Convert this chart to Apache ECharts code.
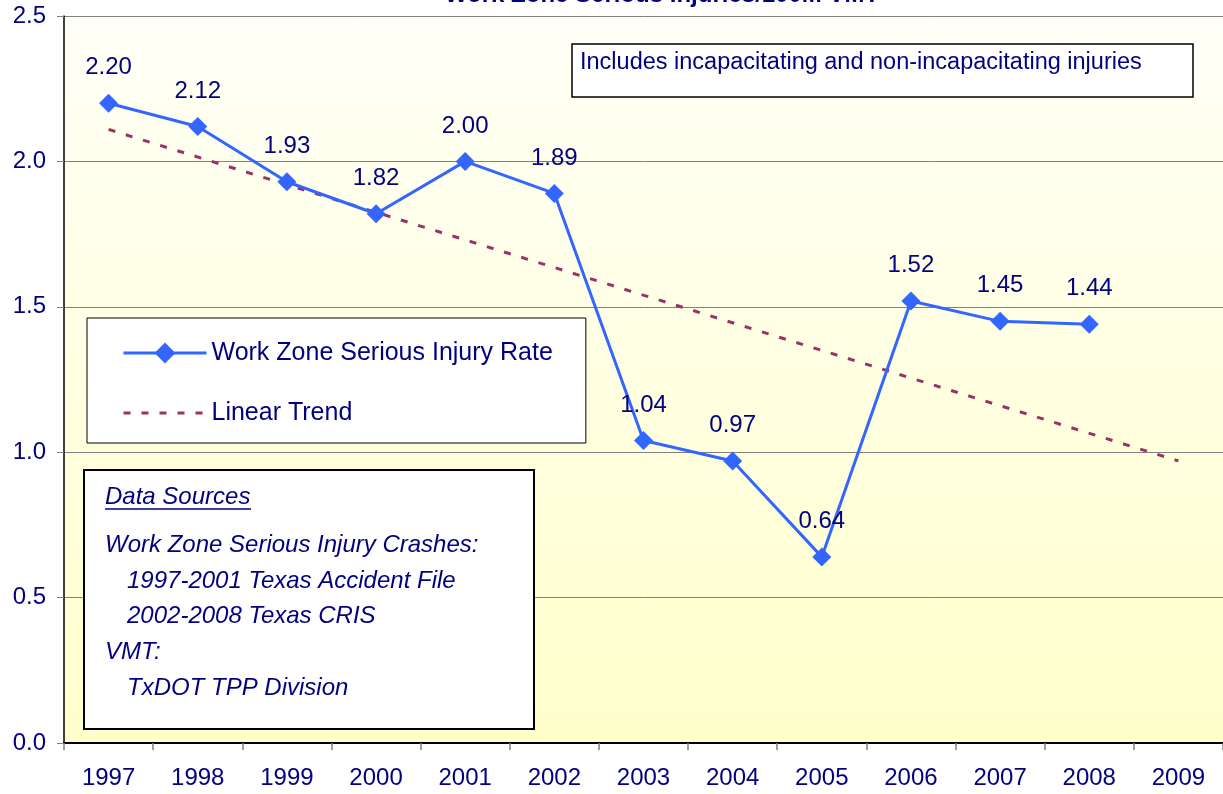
<!DOCTYPE html>
<html lang="en">
<head>
    <meta charset="UTF-8">
    <title>Work Zone Serious Injuries/100M VMT</title>
    <script type="text/javascript" src="https://cdn.jsdelivr.net/npm/echarts@6/dist/echarts.min.js"></script>
    <style>
        html, body { margin: 0; padding: 0; background: #fff; }
        #main { width: 1223px; height: 794px; }
    </style>
</head>
<body>
<div id="main"></div>
<script type="text/javascript">
    var years = ['1997', '1998', '1999', '2000', '2001', '2002', '2003', '2004', '2005', '2006', '2007', '2008', '2009'];
    var injuryRate = [2.20, 2.12, 1.93, 1.82, 2.00, 1.89, 1.04, 0.97, 0.64, 1.52, 1.45, 1.44];
    // trend line end points
    var trendYears = ['1997', '2009'];
    var trendValues = [2.11, 0.97];
    var yTicks = [0, 0.5, 1.0, 1.5, 2.0, 2.5];

    var navy = '#000080';
    var font = 'Liberation Sans, Arial, sans-serif';

    var myChart = echarts.init(document.getElementById('main'));

    var trendData = [];
    for (var i = 0; i < trendYears.length; i++) {
        trendData.push([trendYears[i], trendValues[i]]);
    }

    var sourceLines = [
        ['Work Zone Serious Injury Crashes:', 105, 545],
        ['1997-2001 Texas Accident File', 127, 581],
        ['2002-2008 Texas CRIS', 127, 616],
        ['VMT:', 105, 652],
        ['TxDOT TPP Division', 127, 688]
    ];

    var graphics = [
        {
            type: 'rect', z: 50,
            shape: { x: 572, y: 44, width: 621, height: 53 },
            style: { fill: '#fff', stroke: '#000', lineWidth: 1.5 }
        },
        {
            type: 'text', z: 51, x: 580, y: 63,
            style: {
                text: 'Includes incapacitating and non-incapacitating injuries',
                font: '23.5px ' + font, fill: navy, verticalAlign: 'middle'
            }
        },
        {
            type: 'rect', z: 50,
            shape: { x: 84, y: 470, width: 450, height: 259 },
            style: { fill: '#fff', stroke: '#000', lineWidth: 2 }
        },
        {
            type: 'text', z: 51, x: 105, y: 497,
            style: {
                text: 'Data Sources', font: 'italic 24px ' + font,
                fill: navy, verticalAlign: 'middle'
            }
        },
        {
            type: 'line', z: 51,
            shape: { x1: 105, y1: 509, x2: 251, y2: 509 },
            style: { stroke: navy, lineWidth: 1.5 }
        }
    ];
    sourceLines.forEach(function (l) {
        graphics.push({
            type: 'text', z: 51, x: l[1], y: l[2],
            style: { text: l[0], font: 'italic 24px ' + font, fill: navy, verticalAlign: 'middle' }
        });
    });

    var option = {
        animation: false,
        textStyle: { fontFamily: font },
        title: {
            text: 'Work Zone Serious Injuries/100M VMT',
            left: 657, top: -22, textAlign: 'center',
            textStyle: { color: navy, fontSize: 24, fontWeight: 'bold', fontFamily: font }
        },
        legend: {
            orient: 'vertical',
            left: 87, top: 318,
            padding: [20, 33, 15, 35],
            backgroundColor: '#fff',
            borderColor: '#000',
            borderWidth: 1,
            itemWidth: 83,
            itemHeight: 26,
            itemGap: 30,
            lineStyle: { width: 3 },
            textStyle: { color: navy, fontSize: 25, lineHeight: 30, fontFamily: font },
            data: [
                { name: 'Work Zone Serious Injury Rate' },
                { name: 'Linear Trend', itemStyle: { opacity: 0 } }
            ]
        },
        grid: {
            left: 64, top: 16, width: 1165, bottom: 51,
            show: true, borderWidth: 0,
            backgroundColor: new echarts.graphic.LinearGradient(0, 0, 0, 1, [
                { offset: 0, color: '#fffff7' },
                { offset: 1, color: '#ffffcc' }
            ])
        },
        xAxis: {
            type: 'category',
            data: years,
            boundaryGap: true,
            axisLine: { lineStyle: { color: '#000', width: 2 } },
            axisTick: { show: true, length: 7, lineStyle: { color: '#808080', width: 1.5 } },
            axisLabel: { color: navy, fontSize: 24, margin: 23, fontFamily: font }
        },
        yAxis: {
            type: 'value',
            min: 0, max: 2.5, interval: 0.5,
            axisLine: { show: true, lineStyle: { color: '#000', width: 1.5 } },
            axisTick: { show: true, length: 7, lineStyle: { color: '#808080' } },
            splitLine: { lineStyle: { color: '#808080', width: 1 } },
            axisLabel: {
                color: navy, fontSize: 24, margin: 18, fontFamily: font,
                formatter: function (v) {
                    return yTicks.indexOf(v) >= 0 ? v.toFixed(1) : '';
                }
            }
        },
        series: [
            {
                name: 'Work Zone Serious Injury Rate',
                type: 'line',
                data: injuryRate,
                symbol: 'diamond',
                symbolSize: 19,
                z: 5,
                lineStyle: { color: '#3366ff', width: 3 },
                itemStyle: { color: '#3366ff' },
                label: {
                    show: true, position: 'top', distance: 14,
                    color: navy, fontSize: 24, fontFamily: font,
                    formatter: function (p) { return p.value.toFixed(2); }
                }
            },
            {
                name: 'Linear Trend',
                type: 'line',
                data: trendData,
                symbol: 'none',
                z: 3,
                lineStyle: { color: '#993366', width: 3, type: [7, 11] },
                itemStyle: { color: '#993366' }
            }
        ],
        graphic: graphics
    };
    myChart.setOption(option);
</script>
</body>
</html>
